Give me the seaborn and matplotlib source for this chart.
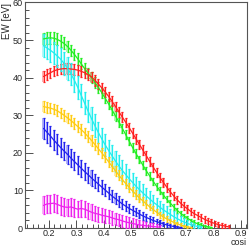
import numpy as np
import pandas as pd
import matplotlib
matplotlib.use("Agg")
import matplotlib.pyplot as plt
from matplotlib.ticker import MultipleLocator
import seaborn as sns

# cos i bin centres
cosi = [0.18, 0.1925, 0.205, 0.2175, 0.23, 0.2425, 0.255, 0.2675, 0.28, 0.2925,
        0.305, 0.3175, 0.33, 0.3425, 0.355, 0.3675, 0.38, 0.3925, 0.405, 0.4175,
        0.43, 0.4425, 0.455, 0.4675, 0.48, 0.4925, 0.505, 0.5175, 0.53, 0.5425,
        0.555, 0.5675, 0.58, 0.5925, 0.605, 0.6175, 0.63, 0.6425, 0.655, 0.6675,
        0.68, 0.6925, 0.705, 0.7175, 0.73, 0.7425, 0.755, 0.7675, 0.78, 0.7925,
        0.805, 0.8175, 0.83, 0.8425, 0.855]

ew_red = [40.3, 40.8, 41.3, 41.8, 42.1, 42.3, 42.4, 42.4, 42.3, 42.2,
          42.0, 41.7, 41.3, 40.8, 40.2, 39.3, 38.3, 37.3, 36.2, 35.0,
          33.7, 32.3, 30.9, 29.5, 28.1, 26.7, 25.2, 23.7, 22.2, 20.7,
          19.2, 17.7, 16.2, 14.8, 13.4, 12.1, 10.8, 9.6, 8.5, 7.5,
          6.6, 5.8, 5.1, 4.4, 3.8, 3.3, 2.8, 2.3, 1.9, 1.5,
          1.2, 0.9, 0.7, 0.5, 0.3]
err_red = [1.4, 1.4, 1.4, 1.4, 1.4, 1.4, 1.4, 1.4, 1.4, 1.4,
           1.4, 1.4, 1.4, 1.4, 1.4, 1.4, 1.4, 1.3, 1.3, 1.3,
           1.3, 1.3, 1.3, 1.3, 1.3, 1.3, 1.3, 1.3, 1.3, 1.3,
           1.3, 1.2, 1.2, 1.2, 1.2, 1.2, 1.2, 1.1, 1.1, 1.1,
           1.1, 1.0, 1.0, 1.0, 1.0, 0.9, 0.9, 0.9, 0.8, 0.8,
           0.7, 0.7, 0.6, 0.5, 0.4]

ew_green = [50.3, 50.5, 50.6, 50.5, 50.2, 49.7, 49.1, 48.3, 47.3, 46.2,
            45.0, 43.7, 42.4, 41.2, 40.0, 38.7, 37.4, 36.0, 34.5, 33.0,
            31.4, 29.8, 28.2, 26.5, 24.8, 23.1, 21.4, 19.8, 18.2, 16.7,
            15.2, 13.8, 12.4, 11.1, 9.9, 8.7, 7.6, 6.6, 5.6, 4.7,
            3.9, 3.2, 2.6, 2.0, 1.5, 1.1, 0.8, 0.5, 0.3, 0.15]
err_green = [1.6, 1.6, 1.6, 1.6, 1.6, 1.6, 1.6, 1.5, 1.5, 1.5,
             1.5, 1.5, 1.5, 1.4, 1.4, 1.4, 1.4, 1.3, 1.3, 1.3,
             1.3, 1.2, 1.2, 1.2, 1.2, 1.1, 1.1, 1.1, 1.0, 1.0,
             1.0, 1.0, 0.9, 0.9, 0.9, 0.8, 0.8, 0.8, 0.7, 0.7,
             0.7, 0.6, 0.6, 0.5, 0.5, 0.4, 0.4, 0.3, 0.3, 0.2]

ew_cyan = [48.5, 47.9, 47.3, 46.6, 45.8, 44.9, 43.8, 42.5, 41.0, 39.3,
           37.4, 35.3, 33.2, 31.1, 29.1, 27.2, 25.4, 23.7, 22.1, 20.6,
           19.2, 17.8, 16.5, 15.3, 14.2, 13.1, 12.1, 11.1, 10.2, 9.3,
           8.5, 7.7, 6.9, 6.2, 5.5, 4.8, 4.2, 3.6, 3.0, 2.5,
           2.0, 1.6, 1.2, 0.9, 0.6, 0.4, 0.2]
err_cyan = [3.0, 3.0, 3.0, 3.0, 3.0, 3.0, 3.0, 3.0, 3.0, 3.0,
            3.0, 3.0, 3.0, 3.0, 3.0, 3.0, 2.9, 2.9, 2.9, 2.9,
            2.8, 2.8, 2.8, 2.7, 2.7, 2.6, 2.6, 2.5, 2.4, 2.3,
            2.2, 2.1, 2.0, 1.9, 1.8, 1.7, 1.6, 1.5, 1.4, 1.3,
            1.1, 1.0, 0.9, 0.7, 0.6, 0.4, 0.3]

ew_yellow = [32.3, 32.1, 31.9, 31.6, 31.2, 30.6, 30.0, 29.3, 28.6, 27.8,
             27.0, 26.2, 25.3, 24.3, 23.3, 22.2, 21.1, 20.0, 18.8, 17.6,
             16.4, 15.2, 14.0, 12.9, 11.8, 10.8, 9.8, 8.9, 8.0, 7.2,
             6.4, 5.6, 4.9, 4.2, 3.5, 2.9, 2.4, 1.9, 1.5, 1.1,
             0.8, 0.5, 0.3, 0.15]
err_yellow = [1.4, 1.4, 1.4, 1.4, 1.4, 1.4, 1.4, 1.4, 1.4, 1.4,
              1.4, 1.4, 1.4, 1.4, 1.4, 1.4, 1.4, 1.4, 1.3, 1.3,
              1.3, 1.3, 1.3, 1.3, 1.2, 1.2, 1.2, 1.1, 1.1, 1.0,
              1.0, 0.9, 0.9, 0.8, 0.8, 0.7, 0.7, 0.6, 0.5, 0.5,
              0.4, 0.3, 0.3, 0.2]

ew_blue = [26.5, 25.5, 24.5, 23.4, 22.4, 21.4, 20.5, 19.6, 18.6, 17.7,
           16.8, 15.9, 15.0, 14.2, 13.3, 12.5, 11.7, 10.9, 10.1, 9.3,
           8.5, 7.8, 7.1, 6.4, 5.8, 5.2, 4.7, 4.2, 3.7, 3.2,
           2.8, 2.4, 2.0, 1.7, 1.4, 1.1, 0.8, 0.6, 0.4, 0.25,
           0.15]
err_blue = [2.8, 2.8, 2.7, 2.7, 2.6, 2.6, 2.5, 2.5, 2.4, 2.4,
            2.3, 2.3, 2.2, 2.1, 2.0, 1.9, 1.9, 1.8, 1.7, 1.7,
            1.6, 1.5, 1.5, 1.4, 1.3, 1.3, 1.2, 1.1, 1.1, 1.0,
            0.9, 0.9, 0.8, 0.7, 0.7, 0.6, 0.5, 0.4, 0.4, 0.3,
            0.2]

ew_magenta = [6.0, 6.4, 6.5, 6.6, 6.3, 5.9, 5.6, 5.5, 5.6, 5.3,
              5.0, 5.2, 5.0, 4.6, 4.2, 3.9, 3.7, 3.4, 3.2, 3.0,
              2.7, 2.4, 2.2, 1.9, 1.6, 1.4, 1.2, 1.0, 0.8, 0.7,
              0.6, 0.5, 0.4, 0.3, 0.2]
err_magenta = [2.4, 2.4, 2.4, 2.4, 2.4, 2.4, 2.3, 2.3, 2.3, 2.3,
               2.2, 2.2, 2.2, 2.1, 2.1, 2.0, 2.0, 1.9, 1.9, 1.8,
               1.8, 1.7, 1.6, 1.6, 1.5, 1.4, 1.4, 1.3, 1.2, 1.1,
               1.0, 0.9, 0.8, 0.7, 0.6]

series = [
    ("green", ew_green, err_green, "#22ee22"),
    ("red", ew_red, err_red, "#ff2020"),
    ("cyan", ew_cyan, err_cyan, "#22eeee"),
    ("yellow", ew_yellow, err_yellow, "#ffcc11"),
    ("blue", ew_blue, err_blue, "#2222ee"),
    ("magenta", ew_magenta, err_magenta, "#ee22ee"),
]

sns.set_style("ticks")
plt.rcParams["font.family"] = ["Liberation Sans", "DejaVu Sans"]

fig = plt.figure(figsize=(2.49, 2.47), dpi=100)
ax = fig.add_axes([25 / 249, 19 / 247, 222 / 249, 225.5 / 247])

for name, ew, err, col in series:
    n = len(ew)
    df = pd.DataFrame({"cosi": cosi[:n], "ew": ew, "err": err})
    # shaded error boxes
    ax.bar(df["cosi"], 2 * df["err"], bottom=df["ew"] - df["err"],
           width=0.0075, color=col, alpha=0.35, linewidth=0, zorder=2)
    ax.errorbar(df["cosi"], df["ew"], yerr=df["err"], fmt="none",
                ecolor=col, elinewidth=0.9, capsize=1.0, capthick=0.9,
                zorder=3)
    sns.lineplot(data=df, x="cosi", y="ew", color=col, linewidth=0.9,
                 ax=ax, zorder=4)

ax.set_xlim(0.1125, 0.922)
ax.set_ylim(0, 60)
ax.xaxis.set_major_locator(MultipleLocator(0.1))
ax.xaxis.set_minor_locator(MultipleLocator(0.02))
ax.yaxis.set_major_locator(MultipleLocator(10))
ax.yaxis.set_minor_locator(MultipleLocator(2))
ax.tick_params(which="both", direction="in", top=False, right=False,
               color="#333333", width=0.6, labelsize=6.5, pad=1.5)
ax.tick_params(axis="x", pad=1)
ax.tick_params(which="major", length=6)
ax.tick_params(which="minor", length=3)
ax.set_xticks([0.2, 0.3, 0.4, 0.5, 0.6, 0.7, 0.8, 0.9])
ax.set_xticklabels(["0.2", "0.3", "0.4", "0.5", "0.6", "0.7", "0.8", "0.9"])
for s in ax.spines.values():
    s.set_visible(True)
    s.set_color("#555555")
    s.set_linewidth(0.8)
ax.set_xlabel("")
ax.set_ylabel("")

fig.text(7 / 249, 1 - 3 / 247, "EW [eV]", rotation=90, ha="center",
         va="top", fontsize=7)
fig.text(247 / 249, 0.5 / 247, "cosi", ha="right", va="bottom",
         fontsize=6.5)

fig.savefig("out.png", dpi=100)
